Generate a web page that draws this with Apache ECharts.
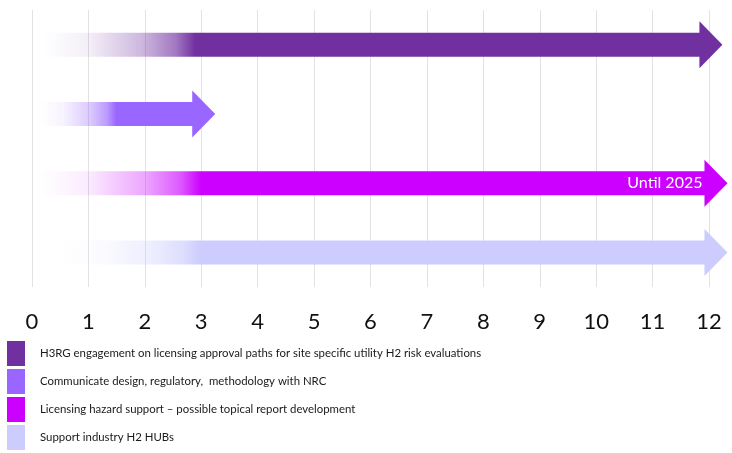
<!DOCTYPE html>
<html>
<head>
<meta charset="utf-8">
<script src="https://cdn.jsdelivr.net/npm/echarts@6/dist/echarts.min.js"></script>
<style>
  html, body { margin: 0; padding: 0; background: #fff; }
  #chart { width: 732px; height: 453px; }
</style>
</head>
<body>
<div id="chart"></div>
<script>
// tasks shown as arrows, top to bottom
const tasks = [
    'H3RG engagement on licensing approval paths for site specific utility H2 risk evaluations',
    'Communicate design, regulatory,  methodology with NRC',
    'Licensing hazard support \u2013 possible topical report development',
    'Support industry H2 HUBs'
]
const colors = ['#7030a0', '#9966ff', '#cc00ff', '#ccccff']
// where the fade begins, where the arrow becomes solid, where the shaft ends
const fadeStart = [0.2, 0.15, 0.15, 0.5]
const solidStart = [2.9, 1.5, 3.0, 3.0]
const shaftEnd = [11.83, 2.84, 11.92, 11.92]
const barLabels = ['', '', 'Until 2025', '']
const xTicks = [0, 1, 2, 3, 4, 5, 6, 7, 8, 9, 10, 11, 12]

const FONT = 'Lato'

function renderArrow (params, api) {
    const row = api.value(0)
    const a = api.coord([api.value(1), row])
    const b = api.coord([api.value(2), row])
    const e = api.coord([api.value(3), row])
    const cy = a[1]
    const bh = 12, hh = 23.5, hl = 23
    const color = colors[params.seriesIndex]
    const fill = new echarts.graphic.LinearGradient(a[0], 0, b[0], 0, [
        { offset: 0, color: echarts.color.modifyAlpha(color, 0) },
        { offset: 0.3, color: echarts.color.modifyAlpha(color, 0.08) },
        { offset: 0.65, color: echarts.color.modifyAlpha(color, 0.35) },
        { offset: 0.87, color: echarts.color.modifyAlpha(color, 0.65) },
        { offset: 1, color: color }
    ], true)
    const children = [{
        type: 'polygon',
        shape: {
            points: [
                [a[0], cy - bh], [e[0], cy - bh], [e[0], cy - hh],
                [e[0] + hl, cy], [e[0], cy + hh], [e[0], cy + bh], [a[0], cy + bh]
            ]
        },
        style: { fill: fill }
    }]
    const label = barLabels[params.seriesIndex]
    if (label) {
        children.push({
            type: 'text',
            style: {
                text: label,
                x: e[0] - 2,
                y: cy,
                align: 'right',
                verticalAlign: 'middle',
                fill: '#fff',
                font: '16px ' + FONT
            }
        })
    }
    return { type: 'group', children: children }
}

const myChart = echarts.init(document.getElementById('chart'))
const option = {
    animation: false,
    grid: {
        left: 32,
        right: 23,
        top: 10,
        bottom: 166
    },
    legend: {
        orient: 'vertical',
        left: 7,
        top: 341,
        padding: 0,
        icon: 'rect',
        itemWidth: 18,
        itemHeight: 25,
        itemGap: 3,
        selectedMode: false,
        data: tasks,
        textStyle: {
            fontFamily: FONT,
            fontSize: 11.4,
            color: '#1a1a1a',
            padding: [0, 0, 0, 10]
        }
    },
    xAxis: {
        type: 'value',
        min: 0,
        max: 12,
        interval: 1,
        axisLine: { show: false },
        axisTick: { show: false },
        splitLine: { show: true, lineStyle: { color: '#e2e2e2' } },
        axisLabel: {
            fontFamily: FONT,
            fontSize: 22,
            color: '#111',
            margin: 24,
            formatter: (v) => xTicks.includes(v) ? String(v) : ''
        }
    },
    yAxis: {
        type: 'category',
        inverse: true,
        show: false,
        data: tasks
    },
    series: tasks.map((name, i) => ({
        name: name,
        type: 'custom',
        renderItem: renderArrow,
        itemStyle: { color: colors[i] },
        clip: false,
        encode: { x: [1, 2, 3], y: 0 },
        data: [[i, fadeStart[i], solidStart[i], shaftEnd[i]]]
    }))
}
myChart.setOption(option)
</script>
</body>
</html>
